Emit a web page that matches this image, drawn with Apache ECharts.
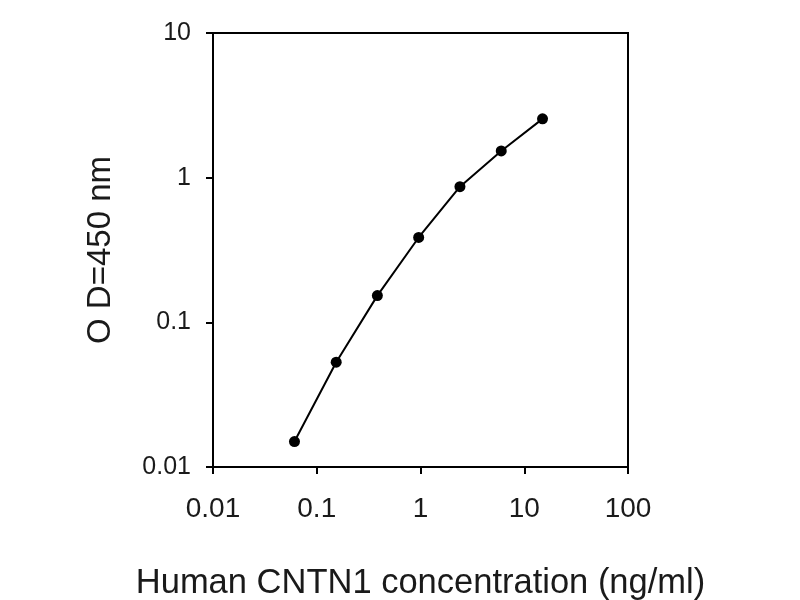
<!DOCTYPE html>
<html>
<head>
<meta charset="utf-8">
<script src="https://cdn.jsdelivr.net/npm/echarts@6/dist/echarts.min.js"></script>
<style>
  html, body { margin: 0; padding: 0; background: #fff; }
  #chart { width: 800px; height: 600px; }
</style>
</head>
<body>
<div id="chart"></div>
<script>
// concentration (ng/ml) vs OD at 450 nm
const concentration = [0.061, 0.154, 0.384, 0.96, 2.4, 6, 15]
const od450 = [0.015, 0.053, 0.153, 0.386, 0.867, 1.53, 2.55]

const xTitle = 'Human CNTN1 concentration (ng/ml)'
const yTitle = 'O D=450 nm'

const textColor = '#1a1a1a'
const fontFamily = 'Arial, "Liberation Sans", sans-serif'

const fmt = v => String(+Number(v).toPrecision(3))

const chart = echarts.init(document.getElementById('chart'))

chart.setOption({
    animation: false,
    backgroundColor: '#fff',
    grid: {
        left: 213,
        right: 172,
        top: 33,
        bottom: 133,
        outerBoundsMode: 'none',
        containLabel: false,
        show: true,
        borderColor: '#000',
        borderWidth: 2
    },
    xAxis: {
        type: 'log',
        logBase: 10,
        min: 0.01,
        max: 100,
        interval: 1,
        name: xTitle,
        nameLocation: 'middle',
        nameGap: 99,
        nameTextStyle: { color: textColor, fontSize: 34.5, fontFamily: fontFamily },
        axisLine: { lineStyle: { color: '#000', width: 2 } },
        axisTick: { length: 7, lineStyle: { color: '#000', width: 2 } },
        minorTick: { show: false },
        splitLine: { show: false },
        axisLabel: {
            color: textColor,
            fontSize: 28,
            fontFamily: fontFamily,
            margin: 28,
            formatter: fmt
        }
    },
    yAxis: {
        type: 'log',
        logBase: 10,
        min: 0.01,
        max: 10,
        interval: 1,
        name: yTitle,
        nameLocation: 'middle',
        nameGap: 96,
        nameRotate: 90,
        nameTextStyle: { color: textColor, fontSize: 33, fontFamily: fontFamily },
        axisLine: { lineStyle: { color: '#000', width: 2 } },
        axisTick: { length: 7, lineStyle: { color: '#000', width: 2 } },
        splitLine: { show: false },
        axisLabel: {
            color: textColor,
            fontSize: 25,
            fontFamily: fontFamily,
            margin: 22,
            formatter: fmt
        }
    },
    series: [{
        type: 'line',
        data: concentration.map((c, i) => [c, od450[i]]),
        symbol: 'circle',
        symbolSize: 11,
        itemStyle: { color: '#000' },
        lineStyle: { color: '#000', width: 2 }
    }]
})
</script>
</body>
</html>
